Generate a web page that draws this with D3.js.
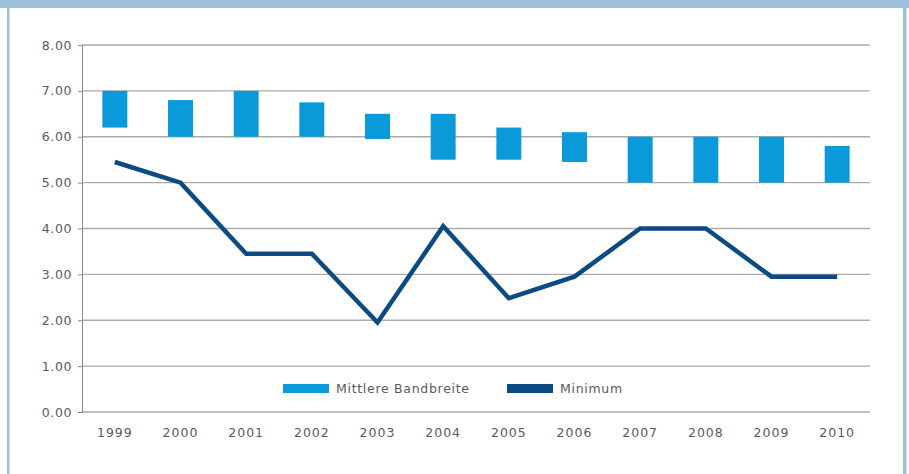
<!DOCTYPE html>
<html>
<head>
<meta charset="utf-8">
<script src="https://cdn.jsdelivr.net/npm/d3@7"></script>
<style>
  body { margin: 0; background: #fff; }
  svg text { font-family: "DejaVu Sans", sans-serif; fill: #5a5a5a; }
</style>
</head>
<body>
<div id="chart"></div>
<script>
var svgWidth = 909;
var svgHeight = 474;

// data
var years = ["1999", "2000", "2001", "2002", "2003", "2004", "2005", "2006", "2007", "2008", "2009", "2010"];
var bandLow = [6.2, 6.0, 6.0, 6.0, 5.95, 5.5, 5.5, 5.45, 5.0, 5.0, 5.0, 5.0];
var bandHigh = [7.0, 6.8, 7.0, 6.75, 6.5, 6.5, 6.2, 6.1, 6.0, 6.0, 6.0, 5.8];
var minimum = [5.45, 5.0, 3.45, 3.45, 1.95, 4.05, 2.48, 2.95, 4.0, 4.0, 2.95, 2.95];
var yTicks = [0, 1, 2, 3, 4, 5, 6, 7, 8];
var legendLabels = ["Mittlere Bandbreite", "Minimum"];

var margin = { top: 45, right: 39, bottom: 62, left: 82 };
var width = svgWidth - margin.left - margin.right;
var height = svgHeight - margin.top - margin.bottom;

var svg = d3.select("#chart")
    .append("svg")
    .attr("width", svgWidth)
    .attr("height", svgHeight);

// frame
svg.append("rect").attr("x", 0).attr("y", 0).attr("width", svgWidth).attr("height", 8).attr("fill", "#9cc0dc");
svg.append("rect").attr("x", 7).attr("y", 0).attr("width", 2.5).attr("height", svgHeight).attr("fill", "#9cc0dc");
svg.append("rect").attr("x", 903).attr("y", 0).attr("width", 3.5).attr("height", svgHeight).attr("fill", "#9cc0dc");

var chartGroup = svg.append("g")
    .attr("transform", `translate(${margin.left}, ${margin.top})`);

var x = d3.scaleBand().domain(years).range([0, width]).paddingInner(0.62).paddingOuter(0.31);
var y = d3.scaleLinear().domain([0, 8]).range([height, 0]);

// gridlines
chartGroup.selectAll(".grid")
    .data(yTicks)
    .enter()
    .append("line")
    .attr("x1", 0)
    .attr("x2", width)
    .attr("y1", d => y(d))
    .attr("y2", d => y(d))
    .attr("stroke", "#aaaaaa")
    .attr("stroke-width", 1.3);

// y axis
var leftAxis = d3.axisLeft(y).tickValues(yTicks).tickFormat(d3.format(".2f")).tickSize(4).tickPadding(6);
var yAxis = chartGroup.append("g").call(leftAxis);
yAxis.select(".domain").attr("stroke", "#888");
yAxis.selectAll(".tick line").attr("stroke", "#888");
yAxis.selectAll("text").attr("font-size", "12.5px").attr("letter-spacing", "0.6px").style("fill", "#5a5a5a");

// x labels
var bottomAxis = d3.axisBottom(x).tickSize(0).tickPadding(16);
var xAxis = chartGroup.append("g").attr("transform", `translate(0, ${height})`).call(bottomAxis);
xAxis.select(".domain").remove();
xAxis.selectAll("text").attr("font-size", "12.5px").attr("letter-spacing", "1px").style("fill", "#5a5a5a");

// range bars
chartGroup.selectAll(".band")
    .data(years)
    .enter()
    .append("rect")
    .attr("x", d => x(d))
    .attr("width", x.bandwidth())
    .attr("y", (d, i) => y(bandHigh[i]))
    .attr("height", (d, i) => y(bandLow[i]) - y(bandHigh[i]))
    .attr("fill", "#0a9ad9");

// minimum line
var line = d3.line()
    .x((d, i) => x(years[i]) + x.bandwidth() / 2)
    .y(d => y(d));

chartGroup.append("path")
    .datum(minimum)
    .attr("d", line)
    .attr("fill", "none")
    .attr("stroke", "#0b4a82")
    .attr("stroke-width", 4.5)
    .attr("stroke-linejoin", "miter");

// legend
var legendColors = ["#0a9ad9", "#0b4a82"];
var legendX = [283, 507];
var legend = svg.selectAll(".legend")
    .data(legendLabels)
    .enter()
    .append("g")
    .attr("transform", (d, i) => `translate(${legendX[i]}, 384)`);

legend.append("rect")
    .attr("width", 46)
    .attr("height", 9)
    .attr("fill", (d, i) => legendColors[i]);

legend.append("text")
    .attr("x", 53)
    .attr("y", 9)
    .attr("font-size", "12.5px")
    .attr("letter-spacing", "0.7px")
    .text(d => d);
</script>
</body>
</html>
